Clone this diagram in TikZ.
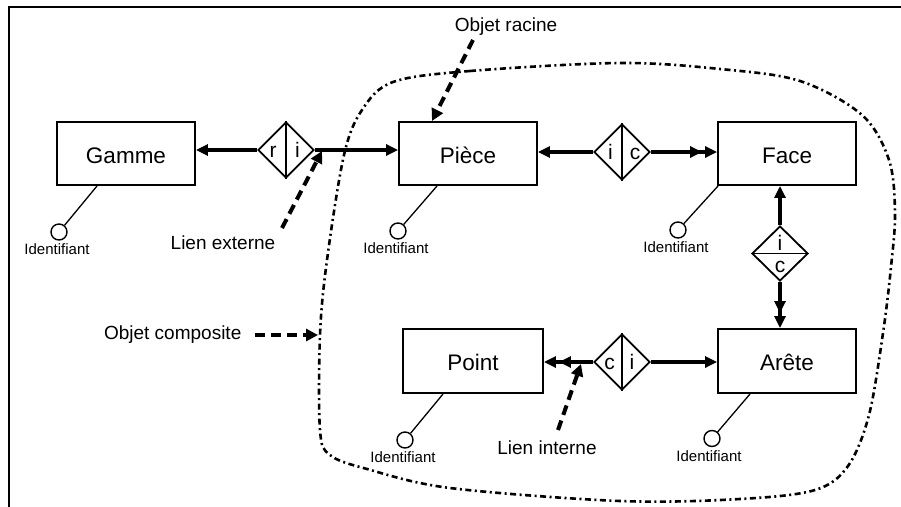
\documentclass[tikz,border=0pt]{standalone}
\usepackage{fontspec}
\setmainfont{Liberation Sans}
\usetikzlibrary{arrows.meta,shapes.geometric}
\tikzset{
  entity/.style={draw, line width=1.9pt, rectangle, minimum width=138pt, minimum height=63pt, inner sep=0pt,
    text height=19pt, text depth=0pt, font=\fontsize{22.5}{26}\selectfont},
  assoc/.style={draw, line width=1.8pt, diamond, minimum width=56pt, minimum height=56pt, inner sep=0pt},
  letter/.style={inner sep=0pt, anchor=base, font=\fontsize{21}{24}\selectfont},
  link/.style={line width=3.2pt, -{Triangle[length=12pt,width=11pt]}},
  dlink/.style={line width=3.2pt, -{Triangle[length=12pt,width=11pt,sep=3pt]Triangle[length=12pt,width=11pt]}},
  idc/.style={draw, line width=1.4pt, circle, minimum size=16pt, inner sep=0pt},
  idline/.style={line width=1.3pt},
  idtext/.style={inner sep=0pt, font=\fontsize{15}{17}\selectfont},
  note/.style={inner sep=0pt, font=\fontsize{19}{22}\selectfont},
  pointer/.style={line width=4pt, dash pattern=on 10pt off 6pt, -{Triangle[length=12pt,width=12pt]}},
  compo/.style={line width=2.6pt, dash pattern=on 6pt off 3.5pt on 2pt off 3.5pt}
}
\begin{document}
\begin{tikzpicture}[x=1pt,y=-1pt]
\useasboundingbox (0,0) rectangle (901,506);
% frame
\draw[line width=2.2pt] (9.3,520) -- (9.3,6.7) -- (920,6.7);

% composite boundary
\draw[compo] plot[smooth cycle, tension=0.55] coordinates {
 (393,82) (470,71) (620,63) (720,69) (800,81) (862,115) (889,160) (895,213)
 (891,267) (883,333) (869,415) (848,466) (815,490) (740,499) (620,501)
 (450,488) (367,469) (330,455) (320,430) (320,335) (327,260) (344,155) (362,110)};

% entities
\node[entity] (gamme) at (126,153.5) {Gamme};
\node[entity] (piece) at (468,153.5) {Pièce};
\node[entity] (face)  at (787,153.5) {Face};
\node[entity, minimum width=140pt, minimum height=64pt] (point) at (473,361) {Point};
\node[entity, minimum height=64pt] (arete) at (787,361) {Arête};

% associations
\node[assoc] (d1) at (286,150) {};
\draw[line width=1.8pt] (d1.north) -- (d1.south);
\node[letter] (d1r) at (273,157) {r};
\node[letter] (d1i) at (297.5,157) {i};

\node[assoc] (d2) at (622,152) {};
\draw[line width=1.8pt] (d2.north) -- (d2.south);
\node[letter] (d2i) at (610.5,159) {i};
\node[letter] (d2c) at (635,159) {c};

\node[assoc, minimum height=55pt] (d4) at (780,253.5) {};
\draw[line width=1.8pt] (d4.west) -- (d4.east);
\node[letter] (d4i) at (780,250.7) {i};
\node[letter] (d4c) at (780,272) {c};

\node[assoc] (d3) at (622,362) {};
\draw[line width=1.8pt] (d3.north) -- (d3.south);
\node[letter] (d3c) at (609.5,369) {c};
\node[letter] (d3i) at (632,369) {i};

% links
\draw[link] (d1.west) -- (d1.west -| gamme.east);
\draw[link] (d1.east) -- (d1.east -| piece.west);
\draw[link] (d2.west) -- (d2.west -| piece.east);
\draw[dlink] (d2.east) -- (d2.east -| face.west);
\draw[link] (d4.north) -- (d4.north |- face.south);
\draw[dlink] (d4.south) -- (d4.south |- arete.north);
\draw[link] (d3.east) -- (d3.east -| arete.west);
\draw[dlink] (d3.west) -- (d3.west -| point.east);

% identifiers
\node[idc] (cg) at (59,232) {};
\draw[idline] ([xshift=41pt]gamme.south west) -- (cg);
\node[idtext] (tg) at (57,249) {Identifiant};

\node[idc] (cp) at (398,231) {};
\draw[idline] ([xshift=39pt]piece.south west) -- (cp);
\node[idtext] (tp) at (396,248) {Identifiant};

\node[idc] (cf) at (678,230) {};
\draw[idline] ([xshift=1pt]face.south west) -- (cf);
\node[idtext] (tf) at (676,247) {Identifiant};

\node[idc] (cpt) at (405,440) {};
\draw[idline] ([xshift=41pt]point.south west) -- (cpt);
\node[idtext] (tpt) at (403,457) {Identifiant};

\node[idc] (ca) at (712,438.5) {};
\draw[idline] ([xshift=33pt]arete.south west) -- (ca);
\node[idtext] (ta) at (709,456.5) {Identifiant};

% notes
\node[note] (or) at (506,27) {Objet racine};
\coordinate (orA) at (473,40);
\coordinate (orB) at (432,121);
\draw[pointer] (orA) -- (orB);

\node[note] (le) at (223,243) {Lien externe};
\coordinate (leA) at (282,228);
\coordinate (leB) at (322,151);
\draw[pointer] (leA) -- (leB);

\node[note] (oc) at (172.7,335) {Objet composite};
\coordinate (ocA) at (255,335);
\coordinate (ocB) at (318,335);
\draw[pointer] (ocA) -- (ocB);

\node[note] (li) at (547,448) {Lien interne};
\coordinate (liA) at (558,430);
\coordinate (liB) at (581,364);
\draw[pointer] (liA) -- (liB);
\end{tikzpicture}
\end{document}
